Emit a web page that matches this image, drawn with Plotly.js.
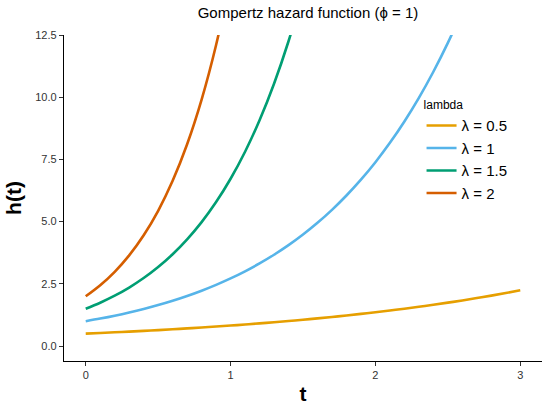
<!DOCTYPE html>
<html>
<head>
<meta charset="utf-8">
<script src="https://cdn.plot.ly/plotly-3.0.1.min.js"></script>
<style>html,body{margin:0;padding:0;background:#fff;}#chart{width:550px;height:409px;}</style>
</head>
<body>
<div id="chart"></div>
<script>
// Series names
var seriesNames = ["λ = 0.5", "λ = 1", "λ = 1.5", "λ = 2"];
var seriesColors = ["#E69F00", "#56B4E9", "#009E73", "#D55E00"];

// λ = 0.5 (t from 0 to 3, step 0.1)
var t05 = [0,0.1,0.2,0.3,0.4,0.5,0.6,0.7,0.8,0.9,1.0,1.1,1.2,1.3,1.4,1.5,1.6,1.7,1.8,1.9,2.0,2.1,2.2,2.3,2.4,2.5,2.6,2.7,2.8,2.9,3.0];
var h05 = [0.500,0.526,0.553,0.581,0.611,0.642,0.675,0.710,0.746,0.784,0.824,0.867,0.911,0.958,1.007,1.059,1.113,1.170,1.230,1.293,1.359,1.429,1.502,1.579,1.660,1.745,1.834,1.928,2.027,2.131,2.241];

// λ = 1
var t1 = [0,0.1,0.2,0.3,0.4,0.5,0.6,0.7,0.8,0.9,1.0,1.1,1.2,1.3,1.4,1.5,1.6,1.7,1.8,1.9,2.0,2.1,2.2,2.3,2.4,2.5,2.6];
var h1 = [1.000,1.105,1.221,1.350,1.492,1.649,1.822,2.014,2.226,2.460,2.718,3.004,3.320,3.669,4.055,4.482,4.953,5.474,6.050,6.686,7.389,8.166,9.025,9.974,11.023,12.182,13.464];

// λ = 1.5
var t15 = [0,0.1,0.2,0.3,0.4,0.5,0.6,0.7,0.8,0.9,1.0,1.1,1.2,1.3,1.4,1.5];
var h15 = [1.500,1.743,2.025,2.352,2.733,3.176,3.689,4.287,4.980,5.786,6.723,7.810,9.074,10.543,12.249,14.232];

// λ = 2
var t2 = [0,0.1,0.2,0.3,0.4,0.5,0.6,0.7,0.8,0.9,1.0];
var h2 = [2.000,2.443,2.984,3.644,4.451,5.437,6.640,8.110,9.906,12.099,14.778];

// Axis ticks
var xTicks = [0,1,2,3];
var yTicks = [0,2.5,5,7.5,10,12.5];
var yTickLabels = ["0.0","2.5","5.0","7.5","10.0","12.5"];

var xs = [t05, t1, t15, t2];
var ys = [h05, h1, h15, h2];
var traces = xs.map(function(x, i){
  return {x: x, y: ys[i], type: "scatter", mode: "lines", name: seriesNames[i],
          line: {color: seriesColors[i], width: 2.6, shape: "spline"}};
});

var layout = {
  width: 550, height: 409,
  margin: {l: 64, r: 8, t: 35, b: 48},
  paper_bgcolor: "#fff", plot_bgcolor: "#fff",
  font: {family: "Liberation Sans, Arial, sans-serif", color: "#000"},
  title: {text: "Gompertz hazard function (ϕ = 1)", font: {size: 15, color: "#000"}, x: 0.56, xanchor: "center", y: 0.968, yanchor: "middle"},
  xaxis: {range: [-0.15, 3.15], tickvals: xTicks, ticktext: xTicks.map(String), showgrid: false, zeroline: false,
          showline: true, linecolor: "#000", linewidth: 1.2, ticks: "outside", ticklen: 4, tickcolor: "#333",
          tickfont: {size: 11, color: "#333"},
          title: {text: "<b>t</b>", font: {size: 21, color: "#000"}, standoff: 5}},
  yaxis: {range: [-0.6, 12.5], tickvals: yTicks, ticktext: yTickLabels, showgrid: false, zeroline: false,
          showline: true, linecolor: "#000", linewidth: 1.2, ticks: "outside", ticklen: 4, tickcolor: "#333",
          tickfont: {size: 11, color: "#333"},
          title: {text: "<b>h(t)</b>", font: {size: 21, color: "#000"}, standoff: 7}},
  legend: {x: 0.748, y: 0.82, xanchor: "left", yanchor: "top", bgcolor: "rgba(0,0,0,0)",
           title: {text: "lambda", font: {size: 12}}, font: {size: 15}, tracegroupgap: 0, itemwidth: 30},
  showlegend: true
};

Plotly.newPlot("chart", traces, layout, {displayModeBar: false, staticPlot: true});
</script>
</body>
</html>
